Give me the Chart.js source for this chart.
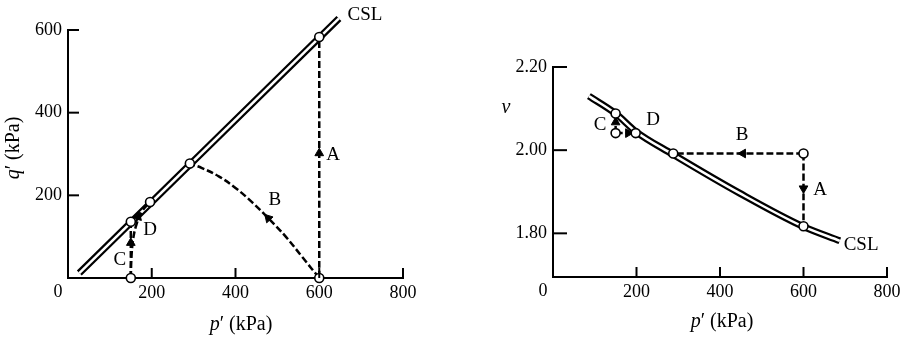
<!DOCTYPE html>
<html>
<head>
<meta charset="utf-8">
<script src="https://cdn.jsdelivr.net/npm/chart.js@4.4.0/dist/chart.umd.min.js"></script>
<style>
  body { margin: 0; background: #fff; }
  .wrap { display: flex; width: 908px; height: 340px; }
  .box { width: 454px; height: 340px; }
</style>
</head>
<body>
<div class="wrap">
  <div class="box"><canvas id="chartQ" width="454" height="340"></canvas></div>
  <div class="box"><canvas id="chartV" width="454" height="340"></canvas></div>
</div>
<script>
// tick values
var pTicks = [0, 200, 400, 600, 800];
var qTicks = [200, 400, 600];
var vTicks = [1.80, 2.00, 2.20];

// q'-p' plot
var cslQ_p = [27, 647];
var cslQ_q = [12, 628];
var pathAQ_p = [600, 600];
var pathAQ_q = [0, 583];
var pathBQ_p = [600, 560, 520, 480, 440, 400, 360, 320, 291];
var pathBQ_q = [0, 50, 100, 143, 183, 218, 246, 266, 277];
var pathCQ_p = [150, 150];
var pathCQ_q = [0, 136];
var pathDQ_p = [150, 151, 155, 163, 176, 196];
var pathDQ_q = [0, 40, 90, 128, 160, 184];
var pointsQ_p = [150, 150, 196, 291, 600, 600];
var pointsQ_q = [0, 136, 184, 277, 0, 583];
var arrowsQ_p = [600, 478, 150, 167];
var arrowsQ_q = [302, 145, 85, 148];
var arrowsQ_dir = [0, -43, 0, 16];
var labelsQ = ['CSL', 'A', 'B', 'C', 'D'];
var labelsQ_p = [709, 633, 494, 124, 196];
var labelsQ_q = [636, 298, 189, 44, 116];

// v-p' plot
var cslV_p = [86, 150, 198, 287, 448, 600, 687];
var cslV_v = [2.130, 2.088, 2.045, 1.990, 1.896, 1.816, 1.782];
var pathAV_p = [600, 600];
var pathAV_v = [1.992, 1.817];
var pathBV_p = [600, 288];
var pathBV_v = [1.992, 1.992];
var pathCV_p = [150, 150];
var pathCV_v = [2.041, 2.088];
var pathDV_p = [150, 198];
var pathDV_v = [2.041, 2.041];
var pointsV_p = [150, 150, 198, 288, 600, 600];
var pointsV_v = [2.088, 2.041, 2.041, 1.992, 1.992, 1.817];
var arrowsV_p = [600, 455, 150, 180];
var arrowsV_v = [1.908, 1.992, 2.067, 2.041];
var arrowsV_dir = [180, -90, 0, 90];
var labelsV = ['CSL', 'A', 'B', 'C', 'D'];
var labelsV_p = [738, 640, 453, 113, 240];
var labelsV_v = [1.771, 1.904, 2.036, 2.060, 2.072];

var FONT = '"Liberation Serif", "Times New Roman", serif';

function xy(xs, ys) {
  return xs.map(function(x, i) { return { x: x, y: ys[i] }; });
}

function lineSet(xs, ys, color, width, dash) {
  return {
    data: xy(xs, ys), showLine: true, borderColor: color, borderWidth: width,
    borderDash: dash || [], pointRadius: 0, fill: false, tension: 0.4,
    cubicInterpolationMode: 'default', clip: false
  };
}

// chart.js paints dataset 0 last, so the list is built bottom-up then reversed
function datasets(d) {
  var csl1 = lineSet(d.cslX, d.cslY, '#000', 7);
  var csl2 = lineSet(d.cslX, d.cslY, '#fff', 2.5);
  if (d.monotone) {
    csl1.cubicInterpolationMode = 'monotone';
    csl2.cubicInterpolationMode = 'monotone';
  }
  var out = [csl1, csl2];
  d.paths.forEach(function(p) {
    out.push(lineSet(p[0], p[1], '#000', 2.5, [7, 3]));
  });
  out.push({
    data: xy(d.arX, d.arY), pointStyle: 'triangle', pointRadius: 5,
    rotation: d.arDir, backgroundColor: '#000', borderColor: '#000', borderWidth: 1, clip: false
  });
  out.push({
    data: xy(d.ptX, d.ptY), pointStyle: 'circle', pointRadius: 4.5,
    backgroundColor: '#fff', borderColor: '#000', borderWidth: 1.6, clip: false
  });
  return out.reverse();
}

function line(ctx, x1, y1, x2, y2) {
  ctx.beginPath(); ctx.moveTo(x1, y1); ctx.lineTo(x2, y2); ctx.stroke();
}

function titleText(ctx, italic, rest, cx, cy, size) {
  ctx.font = 'italic ' + size + 'px ' + FONT;
  var w1 = ctx.measureText(italic).width;
  ctx.font = size + 'px ' + FONT;
  var w2 = ctx.measureText(rest).width;
  var x0 = cx - (w1 + w2) / 2;
  ctx.textAlign = 'left';
  ctx.textBaseline = 'middle';
  ctx.font = 'italic ' + size + 'px ' + FONT;
  ctx.fillText(italic, x0, cy);
  ctx.font = size + 'px ' + FONT;
  ctx.fillText(rest, x0 + w1, cy);
}

var decor = {
  id: 'decor',
  afterDraw: function(chart, args, o) {
    var ctx = chart.ctx, xs = chart.scales.x, ys = chart.scales.y, a = chart.chartArea;
    ctx.save();
    ctx.strokeStyle = '#000';
    ctx.lineWidth = 2;
    xs.ticks.forEach(function(t) {
      if (t.value === 0) return;
      var px = xs.getPixelForValue(t.value);
      line(ctx, px, a.bottom, px, a.bottom - 10);
    });
    ys.ticks.forEach(function(t) {
      var py = ys.getPixelForValue(t.value);
      line(ctx, a.left, py, a.left + o.yTickLen, py);
    });
    ctx.fillStyle = '#000';
    ctx.textAlign = 'center';
    ctx.textBaseline = 'middle';
    ctx.font = '19px ' + FONT;
    o.labels.forEach(function(s, i) {
      ctx.fillText(s, xs.getPixelForValue(o.lx[i]), ys.getPixelForValue(o.ly[i]));
    });
    // zero on the p' axis
    ctx.font = '18px ' + FONT;
    ctx.textBaseline = 'top';
    ctx.fillText('0', a.left - 10, a.bottom + 5);
    // axis titles
    titleText(ctx, 'p', '\u2032 (kPa)', o.xTitle[0], o.xTitle[1], 20);
    if (o.yRot) {
      ctx.translate(o.yTitle[0], o.yTitle[1]);
      ctx.rotate(-Math.PI / 2);
      titleText(ctx, o.yTitle[2], o.yTitle[3], 0, 0, 20);
    } else {
      ctx.font = 'italic 20px ' + FONT;
      ctx.textAlign = 'center';
      ctx.textBaseline = 'middle';
      ctx.fillText(o.yTitle[2], o.yTitle[0], o.yTitle[1]);
    }
    ctx.restore();
  }
};

function makeChart(id, d) {
  return new Chart(document.getElementById(id), {
    type: 'scatter',
    data: { datasets: datasets(d) },
    options: {
      responsive: false,
      animation: false,
      events: [],
      layout: { padding: d.pad },
      plugins: { legend: { display: false }, tooltip: { enabled: false }, decor: d.decor },
      scales: {
        x: {
          type: 'linear', min: 0, max: 800,
          afterBuildTicks: function(s) { s.ticks = pTicks.map(function(v) { return { value: v }; }); },
          afterFit: function(s) { s.height = 40; },
          ticks: {
            autoSkip: false, maxRotation: 0, padding: 4, color: '#000',
            font: { family: FONT, size: 18 },
            callback: function(v) { return v === 0 ? '' : String(v); }
          },
          grid: { display: false, drawTicks: false },
          border: { display: true, color: '#000', width: 2 }
        },
        y: {
          type: 'linear', min: d.yMin, max: d.yMax,
          afterBuildTicks: function(s) { s.ticks = d.yTicks.map(function(v) { return { value: v }; }); },
          afterFit: function(s) { s.width = 50; },
          ticks: {
            autoSkip: false, padding: 6, color: '#000',
            font: { family: FONT, size: 18 },
            callback: d.yFmt
          },
          grid: { display: false, drawTicks: false },
          border: { display: true, color: '#000', width: 2 }
        }
      }
    },
    plugins: [decor]
  });
}

makeChart('chartQ', {
  cslX: cslQ_p, cslY: cslQ_q, monotone: false,
  paths: [[pathAQ_p, pathAQ_q], [pathBQ_p, pathBQ_q], [pathCQ_p, pathCQ_q], [pathDQ_p, pathDQ_q]],
  arX: arrowsQ_p, arY: arrowsQ_q, arDir: arrowsQ_dir,
  ptX: pointsQ_p, ptY: pointsQ_q,
  yMin: 0, yMax: 600, yTicks: qTicks,
  yFmt: function(v) { return String(v); },
  pad: { left: 18, right: 51, top: 30, bottom: 22 },
  decor: {
    yTickLen: 11, labels: labelsQ, lx: labelsQ_p, ly: labelsQ_q,
    xTitle: [241, 325], yTitle: [14, 148, 'q', '\u2032 (kPa)'], yRot: true
  }
});

makeChart('chartV', {
  cslX: cslV_p, cslY: cslV_v, monotone: true,
  paths: [[pathAV_p, pathAV_v], [pathBV_p, pathBV_v], [pathCV_p, pathCV_v], [pathDV_p, pathDV_v]],
  arX: arrowsV_p, arY: arrowsV_v, arDir: arrowsV_dir,
  ptX: pointsV_p, ptY: pointsV_v,
  yMin: 1.695, yMax: 2.20, yTicks: vTicks,
  yFmt: function(v) { return v.toFixed(2); },
  pad: { left: 49, right: 21, top: 67, bottom: 23 },
  decor: {
    yTickLen: 14, labels: labelsV, lx: labelsV_p, ly: labelsV_v,
    xTitle: [268, 322], yTitle: [52, 108, 'v'], yRot: false
  }
});
</script>
</body>
</html>
